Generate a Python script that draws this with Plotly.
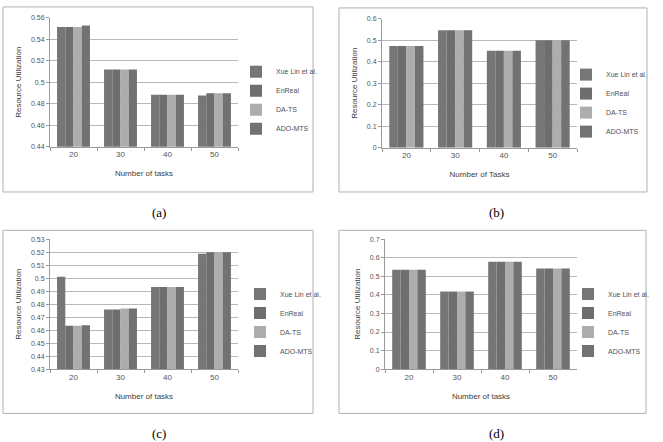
import plotly.graph_objects as go

categories = ["20", "30", "40", "50"]
series_names = ["Xue Lin et al.", "EnReal", "DA-TS", "ADO-MTS"]

a_vals = [
    [0.5515, 0.5119, 0.4884, 0.4877],
    [0.5515, 0.5119, 0.4884, 0.4898],
    [0.5515, 0.5119, 0.4884, 0.4898],
    [0.5527, 0.5119, 0.4884, 0.4898],
]
b_vals = [
    [0.473, 0.546, 0.451, 0.500],
    [0.473, 0.546, 0.451, 0.500],
    [0.473, 0.546, 0.451, 0.500],
    [0.473, 0.546, 0.451, 0.500],
]
c_vals = [
    [0.5011, 0.4758, 0.4933, 0.5189],
    [0.4634, 0.4758, 0.4933, 0.5199],
    [0.4634, 0.4766, 0.4933, 0.5199],
    [0.4637, 0.4766, 0.4933, 0.5199],
]
d_vals = [
    [0.535, 0.418, 0.578, 0.542],
    [0.535, 0.418, 0.578, 0.542],
    [0.535, 0.418, 0.578, 0.542],
    [0.535, 0.418, 0.578, 0.542],
]

colors = ["#767676", "#6e6e6e", "#adadad", "#727272"]

W, H = 663, 442

def px_x(p):
    return p / W

def px_y(p):
    return 1 - p / H

panels = [
    dict(vals=a_vals, box=(50, 238, 14, 145), yr=(0.44, 0.56), dt=0.02,
         xt="Number of tasks", border=(3, 313, 3, 191), leg=(236, 54), cap="(a)", capxy=(159, 212)),
    dict(vals=b_vals, box=(382, 577, 15, 146), yr=(0.0, 0.6), dt=0.1,
         xt="Number of Tasks", border=(339, 647, 4, 191), leg=(566, 57), cap="(b)", capxy=(496, 212)),
    dict(vals=c_vals, box=(50, 238, 239, 371), yr=(0.43, 0.53), dt=0.01,
         xt="Number of tasks", border=(3, 313, 230, 416), leg=(240, 280), cap="(c)", capxy=(159, 436)),
    dict(vals=d_vals, box=(385, 577, 239, 371), yr=(0.0, 0.7), dt=0.1,
         xt="Number of tasks", border=(339, 646, 230, 416), leg=(568, 280), cap="(d)", capxy=(496, 436)),
]

fig = go.Figure()
shapes = []
annotations = []
tick_font = dict(family="Liberation Sans, Arial", size=7, color="#555555")

for i, p in enumerate(panels):
    n = i + 1
    xa = "x" if n == 1 else f"x{n}"
    ya = "y" if n == 1 else f"y{n}"
    leg = "legend" if n == 1 else f"legend{n}"
    for s in range(4):
        fig.add_trace(go.Bar(
            x=categories, y=p["vals"][s], name=series_names[s],
            marker=dict(color=colors[s], line=dict(width=0)),
            xaxis=xa, yaxis=ya, legend=leg, showlegend=True,
        ))
    x0, x1, y0, y1 = p["box"]
    xkey = "xaxis" if n == 1 else f"xaxis{n}"
    ykey = "yaxis" if n == 1 else f"yaxis{n}"
    fig.layout[xkey] = dict(
        domain=[px_x(x0), px_x(x1)], anchor=ya, type="category",
        showline=True, linecolor="#9a9a9a", linewidth=1,
        ticks="outside", ticklen=3, tickcolor="#9a9a9a",
        tickson="boundaries", showgrid=False, tickfont=dict(tick_font, size=8),
        title=dict(text=p["xt"], font=dict(family="Liberation Sans, Arial", size=8, color="#404040"), standoff=12),
        fixedrange=True,
    )
    fig.layout[ykey] = dict(
        domain=[px_y(y1), px_y(y0)], anchor=xa,
        range=list(p["yr"]), dtick=p["dt"], tick0=p["yr"][0],
        showline=True, linecolor="#9a9a9a", linewidth=1,
        ticks="outside", ticklen=3, tickcolor="#9a9a9a",
        showgrid=True, gridcolor="#b8b8b8", gridwidth=1,
        zeroline=False, tickfont=tick_font,
        title=dict(text="Resource Utilization", font=dict(family="Liberation Sans, Arial", size=8, color="#404040"), standoff=8),
        fixedrange=True,
    )
    lx, ly = p["leg"]
    fig.layout[leg] = dict(
        x=px_x(lx), y=px_y(ly), xanchor="left", yanchor="top",
        font=dict(family="Liberation Sans, Arial", size=7, color="#505050"),
        bgcolor="rgba(0,0,0,0)", itemwidth=30,
        itemclick=False, itemdoubleclick=False,
    )
    bx0, bx1, by0, by1 = p["border"]
    shapes.append(dict(type="rect", xref="paper", yref="paper",
                       x0=px_x(bx0), x1=px_x(bx1), y0=px_y(by1), y1=px_y(by0),
                       line=dict(color="#b0b0b0", width=1), fillcolor="rgba(0,0,0,0)", layer="below"))
    cx, cy = p["capxy"]
    annotations.append(dict(text=p["cap"], xref="paper", yref="paper",
                            x=px_x(cx), y=px_y(cy), showarrow=False,
                            xanchor="center", yanchor="middle",
                            font=dict(family="Liberation Serif, Times New Roman", size=13, color="#000000")))

fig.update_layout(
    width=W, height=H, margin=dict(l=0, r=0, t=0, b=0),
    paper_bgcolor="white", plot_bgcolor="white",
    barmode="group", bargap=0.3, bargroupgap=0,
    shapes=shapes, annotations=annotations,
)

fig.write_html("out.html")
